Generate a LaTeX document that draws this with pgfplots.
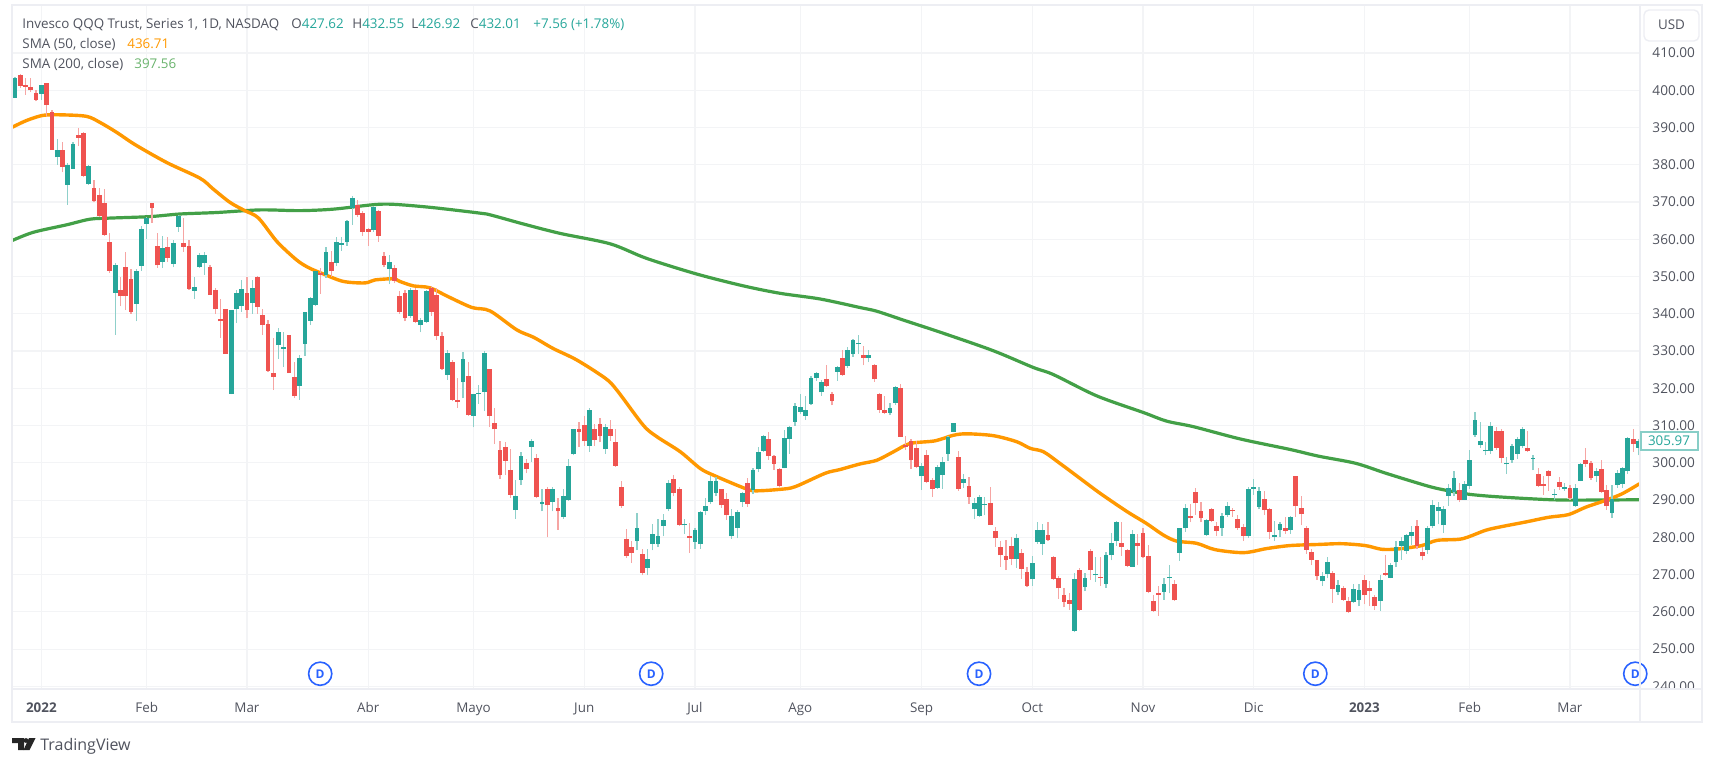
\documentclass[border=0pt]{standalone}
\usepackage{fontspec}
\setmainfont{Open Sans}
\usepackage{pgfplots}
\usepackage{pgfplotstable}
\pgfplotsset{compat=1.18}
\definecolor{upc}{HTML}{26A69A}
\definecolor{dnc}{HTML}{EF5350}
\definecolor{upw}{HTML}{8FD0CA}
\definecolor{dnw}{HTML}{F6A5A3}
\definecolor{sma50}{HTML}{FF9800}
\definecolor{sma200}{HTML}{43A047}
\definecolor{gridc}{HTML}{F3F4F6}
\definecolor{framec}{HTML}{EDEEF3}
\definecolor{txt}{HTML}{50535E}
\definecolor{divc}{HTML}{2962FF}
\pgfplotstableread{
i o h l c
0 398 403.5 398 403.2
1 404.2 404.5 400.6 401.2
2 401.3 403.3 398.8 401
3 401 403.2 399.5 400
4 399.4 400 397 397.5
5 399 401.5 397.5 401.4
6 402 402 393 396
7 394.3 394.8 384 384
8 382 387 380 383.9
9 383.9 386 378 379.4
10 374.6 380.5 369.3 380
11 379 386 379 385.6
12 388 389.9 385 387.2
13 388.5 388.7 376.6 377
14 374.8 380 374.6 379.8
15 373.9 376 369.9 370.2
16 372 373.8 366 366.3
17 369.7 373.5 361 361.2
18 359.2 361.6 351 351.5
19 345.7 353.6 334.4 353.2
20 346.5 350 342 344.7
21 352.7 356.7 341 344.7
22 349.3 352 340 340.6
23 342.7 352 338 351.6
24 352.9 363.5 351.6 362.8
25 364.2 366 360 365.7
26 369.7 369.7 364.4 368.4
27 358.3 361.7 352.4 353
28 354 361 352.3 357.8
29 358 360.6 353.9 355
30 353.4 359.7 352.5 359.1
31 363.4 366.5 362 366.3
32 359.1 365.7 356.7 358
33 358.3 359.9 346.5 346.7
34 346.2 350 344 347.3
35 352.5 356.2 352.4 355.8
36 353.6 356.7 350.5 355.8
37 352.7 353.2 345 345
38 346.4 347 340 341.2
39 338.5 344 333.5 338
40 341.2 341.3 329.2 329.3
41 318.6 341 318.4 340.9
42 341.2 346.5 337.5 345.7
43 342 349 340.5 346.6
44 345.5 350 339 341
45 342.9 349 340 346.9
46 350 350.2 340 341.8
47 339.7 341.2 334.4 337
48 337.2 338.4 324.5 324.7
49 324 333.5 319.5 323.1
50 331.6 336.2 328 335
51 330.6 335 325.7 331.1
52 334.2 334.4 324 324.1
53 323.1 327 317.4 317.9
54 320.7 329 317 328.1
55 332 340.6 328.8 340.4
56 338.1 344.5 337 344.2
57 342.4 351.6 342 351.4
58 350.9 352.3 345.3 350.5
59 350.5 358 349.7 356.7
60 354 357 350 351.4
61 353.6 360.5 352.8 359.4
62 358.5 360.5 357 359
63 359.2 365.3 358.3 364.8
64 368.4 371.6 363.9 371.1
65 369.3 370.5 366 366.6
66 367 367.5 361 362.1
67 362.7 363 358.3 362.1
68 362.4 369 362 368.8
69 367.5 368 359.3 361
70 355.6 356.5 352.5 353.2
71 352 355.7 348 353.9
72 352.3 353.2 348.2 348.9
73 344.7 346 340 340.6
74 345.5 346.5 338 338.8
75 339.5 347 339 346.4
76 346.4 347 337.5 337.9
77 337 339 335 338.4
78 337.9 346.5 337.5 346
79 346.9 347.5 339.5 340.6
80 345 347 333 334
81 334 335 325 325.2
82 323.6 330.2 322.3 329.6
83 327.1 327.5 316.5 317
84 317 322.7 314.8 316.3
85 321.6 329.8 317.3 327.8
86 323.4 327 312.6 312.8
87 312.6 318.5 309.5 318.4
88 318.4 320.9 315.8 318.7
89 319 330 313.8 329.6
90 325.1 325.1 309.6 312.6
91 310.8 314.7 305 309
92 303.4 306 295.8 296.7
93 304.3 305.7 296.7 300.5
94 298.2 303.8 290.7 291.5
95 287.3 295.5 285 291.1
96 295.4 303 294 301.8
97 300 301 297.2 298.3
98 304.3 306.5 300.3 305.9
99 301.2 302.5 290.5 290.9
100 288.9 293 287 289.4
101 292.9 293.5 280 288.6
102 289.5 293.5 287 293.1
103 287.8 290.5 282 287
104 285.5 293 285 291.1
105 290 301 289.8 299.1
106 302.3 309.2 302 309
107 309 311 304.3 308.3
108 310.1 312.5 304.5 305.8
109 304.6 314.6 303 314.3
110 309 310.5 304.5 306.1
111 310.4 312 305.5 307.2
112 303.6 310.5 302.5 309.7
113 309 311.5 306 307.3
114 305.6 309 299 299.2
115 293.4 295 288 288.5
116 279.5 282.2 274.5 275
117 277.4 278.9 273.1 275.7
118 279 286.6 276.5 282.4
119 275.5 277 269.8 270.5
120 271.9 276.9 269.8 274.3
121 278.3 283.5 276.5 281
122 278.2 285 277.4 280.4
123 283 286.2 280.3 284.6
124 287.6 295.4 287 294.6
125 295.8 296.8 291 292
126 292.9 293.5 283 283.3
127 283.2 285 280.9 283.7
128 280.4 283.9 275.8 279.9
129 278.8 282.4 277 281.9
130 278.2 287 276.9 286.7
131 287.1 290.5 286 288.5
132 289.4 296.6 288.9 295.2
133 292 296.3 291 295.2
134 292.9 293 288 288.6
135 290.2 292 284.6 286
136 280.3 287.6 279.6 285.7
137 282.6 287.3 279.8 286.7
138 289.5 292.3 288.2 291.8
139 294.5 296 288.2 288.9
140 292.7 298.6 291.6 298.2
141 298.3 304.2 297.5 303
142 303.2 307.6 303 307.3
143 306.3 308.2 300.8 301.8
144 301.9 302.2 298.1 299.8
145 298.3 298.6 293.5 293.9
146 298.7 308.7 298.5 306.6
147 306.4 310 302.5 309.7
148 311 316 310 315.2
149 313.7 318.6 313 315
150 312.6 318 311.6 314.3
151 315.8 323.2 315.6 322.7
152 322.7 324.5 322 324.2
153 318.9 322.2 318 321.8
154 322.5 326.2 320.3 320.6
155 318.6 319 315.4 316.6
156 324.5 326 322 325.8
157 328.2 330.3 323.4 323.7
158 326 331 325.5 330.3
159 329.2 333.3 328.5 333
160 331.8 334.3 329.3 332.1
161 329 331.3 326.2 328.2
162 328.2 330.3 327 329
163 326.2 326.5 321.8 322.4
164 318.4 318.7 313.4 314.2
165 314.2 318 313 313.5
166 313.4 316 312.8 314.8
167 316.2 320.6 315.6 320.4
168 320.2 321.3 306.9 307
169 304.9 307.2 303.4 304.3
170 305.8 306.5 298.4 300.7
171 303.9 306 298.5 299
172 296.4 300 292.8 299.2
173 302.1 303.5 294.5 294.9
174 295.4 296 290.8 293.1
175 293.3 299.5 293 298.8
176 296.7 301.5 293 300.3
177 302.5 307.3 300.5 307
178 308.3 310.8 308.2 310.6
179 301.6 303.2 292.5 293.1
180 294.6 297 293.3 295.6
181 293.8 296.3 289 290.9
182 287.5 290.5 285 289.3
183 285.7 291.3 285.5 290.9
184 288.8 290.9 285.9 289
185 289.3 293.6 283.2 283.3
186 281.8 282.8 277.5 279.7
187 277.5 279 272 275.2
188 274.9 279.2 271.2 274
189 277.7 280 272.5 274.3
190 274.3 281 271.9 279.7
191 275.9 277 268.9 271.5
192 270.7 272 266.8 267
193 268.7 275 267 273.2
194 278.8 284 278.3 281.9
195 278.1 283.7 275.3 281.9
196 280.6 284 279 279.4
197 274.8 275 268.5 268.8
198 269.1 269.5 263.5 266.3
199 264.5 266.5 261.2 262.7
200 263.1 265 260.5 262.2
201 254.9 270.5 254.5 268.7
202 271.2 271.7 260.2 260.4
203 266.7 270.5 265.5 269.1
204 276.4 277 268.5 271.2
205 269.8 274.8 268 270.3
206 269.4 274.8 267 269.1
207 267.6 276 266.5 275.2
208 275.2 281.2 273.8 278.4
209 279 284.5 277.8 284.2
210 278.4 284 275 277.5
211 276.7 277 272 272.4
212 272.1 282 272 281
213 278.6 281 272.5 277.7
214 281.3 282.5 274.5 274.8
215 275 278 265 265.4
216 263 264.5 260 260.3
217 265.2 266.9 259 264.5
218 265.4 269 263.3 267.6
219 269 272.5 265 269.4
220 267.6 268.5 263 263.1
221 275.9 282.6 273.7 282.4
222 282.4 288.9 281.5 287.9
223 285.7 289 284 285.1
224 292.1 293.2 286 289.1
225 287.1 289.5 284 285.1
226 280.6 285 280.5 284.6
227 287.6 288 284 284.4
228 283 284 280.5 281.8
229 282.4 286.5 280.4 285.7
230 286 289.5 285.5 288.5
231 287.3 288 285.5 287
232 284.8 286 282 282.4
233 282.8 283.5 279 280.4
234 280.4 293.5 279.8 293.1
235 293.1 295.6 291.5 293.6
236 288.2 293.5 287.5 292.4
237 290.2 292.5 286 287.3
238 287.5 288 279.5 281.5
239 280.1 284.5 279 280.6
240 281.9 284.2 280 283.7
241 282.6 285.5 281 281.8
242 281.9 285.7 281 285.4
243 296.4 296.5 285.5 288.3
244 287.9 291 283.2 286.2
245 282.5 283 275.5 276.7
246 276 277 272.5 274
247 273.8 274 268.5 269.5
248 268.2 270.8 267 269.5
249 270.2 274.7 269 273.3
250 270.4 271 262.4 266.2
251 265.3 268.5 264.6 267.3
252 266.4 266.9 263 263.3
253 263 264 259.8 259.9
254 262.6 267.5 262.5 266.2
255 263.2 267.5 261.5 266
256 268.6 270 262 264.4
257 266.4 268.3 261.5 265.5
258 263.9 264.5 260.5 261.5
259 263 269.8 260.3 268.6
260 270.5 275.3 269.7 270
261 269.1 273 269 272.6
262 273.3 279 272 277.4
263 277.8 280 274 278.9
264 276.3 281 275.5 280.7
265 280.5 283 278 281.4
266 283 284.6 277 277.6
267 276.2 277.5 273.8 274.9
268 276.7 283 275.5 282.5
269 283 290 282.5 288.8
270 287 289.5 283.5 288.1
271 283.2 288.5 281.3 287.7
272 291.1 294.2 288.5 293.2
273 292.1 297.8 291 296
274 292.8 294.5 289.5 289.9
275 290.1 295 290 294.4
276 293.9 303.5 293 300.8
277 307.4 313.6 307 311.6
278 304.7 311 304 305.8
279 303.1 305.5 302 303.5
280 303.2 311 302.5 309.8
281 308.5 309.5 303.5 304
282 308.5 309 300 301.4
283 299.6 301.5 297 300
284 300.9 305 300 304.4
285 302.4 307 301 306.5
286 304.4 309.5 304 309
287 304 308.5 303 303.1
288 301.1 302 298 301.3
289 296.9 298.5 293.5 293.9
290 294.4 296.5 291.5 293.8
291 297.7 298 292.5 296.6
292 291.4 293 290 291.7
293 294.8 296.3 292.8 293.5
294 293.1 294.5 292.5 293.4
295 293.2 294 290 290.6
296 288.3 294.2 288.2 293.3
297 295.1 300 295 299.6
298 300.8 304 299 299.8
299 299.9 300.5 295.5 296
300 296.4 298.5 294.8 297.7
301 298.4 300.8 291.8 292.2
302 292.8 294 287.3 288.4
303 286.5 294 285.2 290.4
304 294.1 298 293.3 297.3
305 294.2 299 293.3 298.7
306 297.7 307 297 306.7
307 306.3 309 303 305
308 304 306.4 302 305.97
}\candles
\begin{document}
\begin{tikzpicture}[x=0.5pt,y=-0.5pt,font=\fontsize{6.7}{8}\selectfont]
\path[use as bounding box] (0,0) rectangle (1715,764);
\coordinate (A) at (12,689);
\begin{axis}[
  at={(A)},anchor=south west,
  scale only axis,width=814pt,height=342pt,
  xmin=-0.57,xmax=308.3,ymin=239.3,ymax=422.9,
  axis line style={draw=none},
  major tick length=0pt,
  grid=major,
  grid style={draw=gridc,line width=0.6pt},
  xtick={5,25,44,67,87,108,129,149,172,193,214,235,256,276,295},
  xticklabels={\textbf{2022},Feb,Mar,Abr,Mayo,Jun,Jul,Ago,Sep,Oct,Nov,Dic,\textbf{2023},Feb,Mar},
  xticklabel style={text=txt,font=\fontsize{6.7}{8}\selectfont,yshift=-3.2pt},
  ytick={240,250,...,410},
  yticklabel pos=right,
  yticklabel style={text=txt,font=\fontsize{6.8}{8}\selectfont,xshift=2.7pt},
  /pgf/number format/assume math mode=true,
  /pgf/number format/fixed,/pgf/number format/fixed zerofill,/pgf/number format/precision=2,
  unbounded coords=discard,
  clip mode=individual,
]
\addplot[sma200,line width=1.6pt,smooth,forget plot] coordinates {
(-0.5,359.7)(3.5,361.9)(9.8,363.9)(14.2,365.4)(18,365.7)(25.6,366.1)(31.3,366.8)(38.3,367.2)(46.5,367.9)(54,367.7)(60.4,368.1)(68,369.3)(71.8,369.4)(78.7,368.6)(86.7,367.3)(89.5,366.8)(96.5,364.1)(103.4,361.6)(112.9,358.8)(119.8,354.9)(129.3,350.7)(138.2,347.5)(145.2,345.5)(152.7,344)(160.3,341.7)(163.5,340.7)(168.6,338.3)(176.1,334.8)(185.6,330.1)(193.2,325.6)(197,323.7)(205.2,318)(214.1,313.5)(218.5,311.2)(223.6,309.7)(232.5,306.4)(241.9,303.6)(247.3,301.8)(254.3,299.9)(259.9,297.3)(265.6,294.8)(269.6,293.2)(275.2,291.7)(280.2,291)(288.4,290.3)(294.7,290)(308.2,290.1)};
\addplot[sma50,line width=1.7pt,smooth,forget plot] coordinates {
(-0.5,390.1)(2.2,391.9)(5.4,393.3)(9.2,393.4)(13.6,393)(16.1,391.4)(19.3,388.7)(22.8,385.4)(28.8,380.6)(35.1,376.4)(37.6,373.5)(40.8,369.9)(43.6,367.7)(46.2,365.7)(49.7,359.4)(53.4,354.5)(55.7,352.4)(58.5,350.7)(62.3,348.7)(66.4,348.3)(68.3,349.1)(71.8,349.4)(73,348.7)(75.6,347.5)(78.7,347)(82.2,344.6)(86.7,341.7)(90.1,340.8)(95.2,335.7)(98.4,333.7)(102.1,330.7)(106.6,327.6)(112,322.7)(114.2,319.5)(119.2,310.1)(121.8,307)(126.2,303)(130,298.5)(132.5,296.7)(138.2,293.3)(140.4,292.5)(145.2,292.9)(148,293.6)(153.7,297.2)(156.5,298.2)(160.3,299.7)(163.5,300.7)(166.7,303)(169.8,305.2)(174.5,305.9)(178,307.4)(180.6,307.8)(185.6,307.3)(190,305.7)(192.6,303.9)(195.1,303)(198.3,299.8)(202.1,295.8)(205.9,291.8)(211,286.9)(214.7,283.7)(217.9,280.6)(220.4,279)(224.2,278.4)(227.7,276.7)(233.1,275.9)(237.5,277)(241.9,277.8)(247.3,278.1)(251.7,278.3)(256.2,277.8)(259.3,276.8)(262.5,276.9)(266.9,277.8)(269.8,279.2)(274.5,279.6)(279,281.9)(282.1,282.9)(286.5,284.1)(291,285.4)(294.7,286.1)(298,288.1)(301.7,289.9)(304.9,291.7)(308.2,294.4)};
% wicks
\addplot[draw=none,mark=none,forget plot,error bars/.cd,y dir=plus,y explicit,error mark=none,
  error bar style={draw=upw,line width=0.6pt,solid}]
  table[x expr={\thisrow{c}>=\thisrow{o} ? \thisrow{i} : nan},y=l,y error expr=\thisrow{h}-\thisrow{l}] {\candles};
\addplot[draw=none,mark=none,forget plot,error bars/.cd,y dir=plus,y explicit,error mark=none,
  error bar style={draw=dnw,line width=0.6pt,solid}]
  table[x expr={\thisrow{c}<\thisrow{o} ? \thisrow{i} : nan},y=l,y error expr=\thisrow{h}-\thisrow{l}] {\candles};
% bodies
\addplot[draw=none,mark=none,forget plot,error bars/.cd,y dir=plus,y explicit,error mark=none,
  error bar style={draw=upc,line width=2.4pt,solid}]
  table[x expr={\thisrow{c}>=\thisrow{o} ? \thisrow{i} : nan},y=o,y error expr=\thisrow{c}-\thisrow{o}] {\candles};
\addplot[draw=none,mark=none,forget plot,error bars/.cd,y dir=plus,y explicit,error mark=none,
  error bar style={draw=dnc,line width=2.4pt,solid}]
  table[x expr={\thisrow{c}<\thisrow{o} ? \thisrow{i} : nan},y=c,y error expr=\thisrow{o}-\thisrow{c}] {\candles};
% dividends
\addplot[only marks,mark=*,mark size=5.8pt,forget plot,
  mark options={draw=divc,fill=white,line width=0.8pt},
  nodes near coords={\textcolor{divc}{\fontsize{6}{7}\selectfont\bfseries D}},
  nodes near coords align={center},
  every node near coord/.style={anchor=center,inner sep=0pt},
] coordinates {(57.9,243.4)(120.7,243.4)(182.9,243.4)(246.7,243.4)(307.4,243.4)};
\end{axis}
% panel frame
\fill[white] (1642,690) rectangle (1700,721);
\draw[framec,line width=0.7pt] (12,5) rectangle (1702,722);
\draw[framec,line width=0.7pt] (12,689) -- (1702,689);
\draw[framec,line width=0.7pt] (1640,5) -- (1640,722);
% USD button
\draw[framec,line width=0.7pt,fill=white,rounded corners=2.5pt] (1644,10) rectangle (1699,41);
\node[text=txt] at (1671.5,25) {USD};
% last price
\draw[upc!55,line width=0.6pt,fill=white] (1641,432) rectangle (1698,450);
\node[text=upc] at (1669,441) {305.97};
% status lines
\node[anchor=base west,text=txt,inner sep=0pt] at (22,29) {Invesco QQQ Trust, Series 1, 1D, NASDAQ};
\node[anchor=base west,inner sep=0pt] at (291,29) {\textcolor{txt}{O}\textcolor{upc}{427.62}};
\node[anchor=base west,inner sep=0pt] at (352,29) {\textcolor{txt}{H}\textcolor{upc}{432.55}};
\node[anchor=base west,inner sep=0pt] at (411,29) {\textcolor{txt}{L}\textcolor{upc}{426.92}};
\node[anchor=base west,inner sep=0pt] at (470,29) {\textcolor{txt}{C}\textcolor{upc}{432.01}};
\node[anchor=base west,inner sep=0pt,text=upc] at (533,29) {+7.56 (+1.78\%)};
\node[anchor=base west,text=txt,inner sep=0pt] at (22,49) {SMA (50, close)};
\node[anchor=base west,text=sma50,inner sep=0pt] at (127,49) {436.71};
\node[anchor=base west,text=txt,inner sep=0pt] at (22,69) {SMA (200, close)};
\node[anchor=base west,text=sma200!80!white,inner sep=0pt] at (134,69) {397.56};
% logo
\fill[black!85] (12,738) -- (24,738) -- (24,750) -- (18,750) -- (18,743) -- (12,743) -- cycle;
\fill[black!85] (26,740.5) circle (2.4);
\fill[black!85] (29,738) -- (35.5,738) -- (29.5,750) -- (23.5,750) -- cycle;
\node[anchor=base west,inner sep=0pt,text=txt,font=\fontsize{8}{9}\selectfont] at (40,750) {TradingView};
\end{tikzpicture}
\end{document}
